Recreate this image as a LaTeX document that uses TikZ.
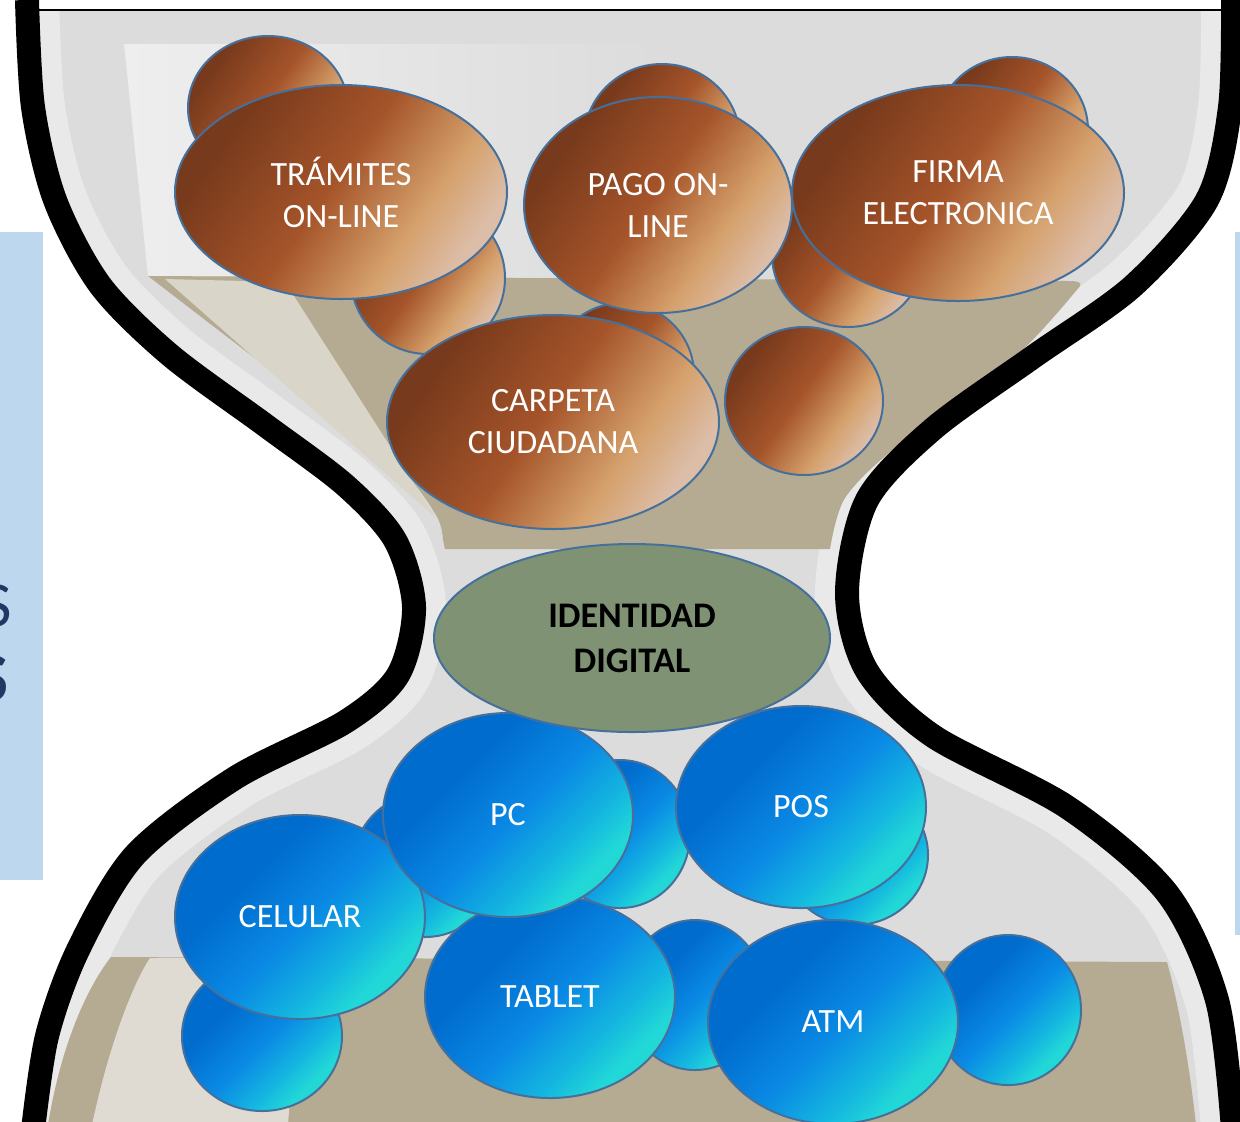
\documentclass[tikz,border=0pt]{standalone}
\usepackage{fontspec}
\setmainfont{Carlito}
\usetikzlibrary{shapes.geometric}
\definecolor{glass}{HTML}{DCDCDC}
\definecolor{rim}{HTML}{E9E9E9}
\definecolor{hilite}{HTML}{EEEEEE}
\definecolor{sand}{HTML}{B5AA92}
\definecolor{sandlt}{HTML}{DAD5C9}
\definecolor{sandlt2}{HTML}{DFDBD3}
\definecolor{olb}{HTML}{46709C}
\definecolor{idgreen}{HTML}{7F9374}
\definecolor{panel}{HTML}{BDD7EE}
\definecolor{navy}{HTML}{203864}
\definecolor{brA}{HTML}{783A1C}
\definecolor{brB}{HTML}{A5542A}
\definecolor{brC}{HTML}{D5A16C}
\definecolor{brD}{HTML}{DCBDA8}
\definecolor{blA}{HTML}{006CCE}
\definecolor{blB}{HTML}{0A8AE4}
\definecolor{blC}{HTML}{14B6E0}
\definecolor{blD}{HTML}{22D8D6}
\pgfdeclarehorizontalshading{brownsh}{100bp}{color(0bp)=(brA); color(28bp)=(brA); color(48bp)=(brB); color(64bp)=(brC); color(74bp)=(brD); color(100bp)=(brD)}
\pgfdeclarehorizontalshading{bluesh}{100bp}{color(0bp)=(blA); color(36bp)=(blA); color(52bp)=(blB); color(64bp)=(blC); color(72bp)=(blD); color(100bp)=(blD)}
\tikzset{
  ball/.style={ellipse, draw=olb, line width=1pt, inner sep=0pt},
  brownball/.style={ball, shading=brownsh, shading angle=-35},
  blueball/.style={ball, shading=bluesh, shading angle=-45},
  lbl/.style={text=white, font=\fontsize{17}{21}\selectfont, align=center},
  blackline/.style={line width=12pt, black},
  rimline/.style={line width=32pt, rim}
}
\begin{document}
\begin{tikzpicture}[x=0.5pt, y=-0.5pt]
\useasboundingbox (0,0) rectangle (1240,1121);
% glass interior
\fill[glass] plot[smooth] coordinates {(27,11) (33,107) (55,200) (100,285) (170,355) (265,425) (345,485) (395,540) (414,607) (398,675) (345,722) (235,778) (135,855) (78,950) (47,1036) (33,1125)}
  -- plot[smooth] coordinates {(1233,1125) (1217,1000) (1167,893) (1067,807) (933,736) (867,671) (847,593) (867,500) (933,429) (1033,357) (1133,286) (1207,200) (1230,107) (1233,11)} -- cycle;
\begin{scope}
\clip plot[smooth] coordinates {(27,11) (33,107) (55,200) (100,285) (170,355) (265,425) (345,485) (395,540) (414,607) (398,675) (345,722) (235,778) (135,855) (78,950) (47,1036) (33,1125)}
  -- plot[smooth] coordinates {(1233,1125) (1217,1000) (1167,893) (1067,807) (933,736) (867,671) (847,593) (867,500) (933,429) (1033,357) (1133,286) (1207,200) (1230,107) (1233,11)} -- cycle;
\draw[rimline] plot[smooth] coordinates {(27,0) (33,107) (55,200) (100,285) (170,355) (265,425) (345,485) (395,540) (414,607) (398,675) (345,722) (235,778) (135,855) (78,950) (47,1036) (33,1130)};
\draw[rimline] plot[smooth] coordinates {(1233,0) (1230,107) (1207,200) (1133,286) (1033,357) (933,429) (867,500) (847,593) (867,671) (933,736) (1067,807) (1167,893) (1217,1000) (1233,1130)};
\end{scope}
% highlight in upper bulb
\shade[left color=hilite, middle color=hilite, right color=glass] (124,44) -- (660,44) -- (660,278) -- (148,276) .. controls (140,200) and (130,100) .. (124,44) -- cycle;
% upper sand
\fill[sand] (148,276) -- (1070,281) .. controls (1078,281) and (1082,283) .. (1080,286)
  -- plot[smooth] coordinates {(1080,286) (1015,357) (897,446) (845,498) (830,549)}
  -- (445,549) -- plot[smooth] coordinates {(443,540) (436,515) (395,464) (277,375) (148,276)} -- cycle;
\fill[sandlt] (165,279) -- (285,282) -- (436,518) -- cycle;
% lower sand
\fill[sand] (111,957) -- (1167,962) .. controls (1180,1010) and (1190,1070) .. (1196,1125) -- (48,1125) .. controls (60,1050) and (85,990) .. (111,957) -- cycle;
\fill[sandlt2] (150,958) -- (300,958) -- (288,1125) -- (92,1125) .. controls (110,1040) and (135,980) .. (150,958) -- cycle;
% black outline
\draw[blackline] plot[smooth] coordinates {(27,0) (33,107) (55,200) (100,285) (170,355) (265,425) (345,485) (395,540) (414,607) (398,675) (345,722) (235,778) (135,855) (78,950) (47,1036) (33,1130)};
\draw[blackline] plot[smooth] coordinates {(1233,0) (1230,107) (1207,200) (1133,286) (1033,357) (933,429) (867,500) (847,593) (867,671) (933,736) (1067,807) (1167,893) (1217,1000) (1233,1130)};
\coordinate (tl) at (27,10);
\coordinate (tr) at (1233,10);
\draw[line width=1pt] (tl) -- (tr);
% brown balls (back)
\node[brownball, minimum width=80pt, minimum height=72pt] (b1) at (268,108) {};
\node[brownball, minimum width=77pt, minimum height=76pt] (b3) at (428,278) {};
\node[brownball, minimum width=78pt, minimum height=76pt] (b4) at (662,140) {};
\node[brownball, minimum width=76pt, minimum height=73pt] (b6) at (1012,130) {};
\node[brownball, minimum width=76pt, minimum height=72pt] (b8) at (848,255) {};
\node[brownball, minimum width=72pt, minimum height=72pt] (b9) at (622,375) {};
\node[brownball, minimum width=79pt, minimum height=74pt] (b11) at (804,401) {};
% brown balls (front)
\node[brownball, minimum width=166pt, minimum height=107pt, lbl] (tram) at (341,192) {TRÁMITES\\ON-LINE};
\node[brownball, minimum width=134pt, minimum height=108pt, lbl] (pago) at (658,205) {PAGO ON-\\LINE};
\node[brownball, minimum width=166pt, minimum height=108pt, lbl] (firma) at (958,193) {FIRMA\\ELECTRONICA};
\node[brownball, minimum width=166pt, minimum height=107pt, lbl] (carpeta) at (553,422) {CARPETA\\CIUDADANA};
% blue balls (back)
\node[blueball, minimum width=72pt, minimum height=72pt] (u1) at (425,865) {};
\node[blueball, minimum width=70pt, minimum height=74pt] (u3) at (620,834) {};
\node[blueball, minimum width=73pt, minimum height=70pt] (u5) at (855,855) {};
\node[blueball, minimum width=80pt, minimum height=75pt] (u7) at (262,1036) {};
\node[blueball, minimum width=70pt, minimum height=75pt] (u9) at (695,995) {};
\node[blueball, minimum width=73pt, minimum height=75pt] (u11) at (1008,1010) {};
% blue balls (front)
\node[blueball, minimum width=125pt, minimum height=101pt, lbl] (tablet) at (550,997) {TABLET};
\node[blueball, minimum width=125pt, minimum height=102pt, lbl] (atm) at (833,1022) {ATM};
\node[blueball, minimum width=125pt, minimum height=102pt, lbl] (celular) at (300,917) {CELULAR};
\node[blueball, minimum width=125pt, minimum height=101pt, lbl] (pos) at (801,807) {POS};
\node[blueball, minimum width=125pt, minimum height=102pt, lbl] (pc) at (508,815) {PC};
% identity
\node[ball, fill=idgreen, minimum width=198pt, minimum height=94pt, align=center, font=\bfseries\fontsize{18}{22.5}\selectfont] (idd) at (632,638) {IDENTIDAD\\DIGITAL};
% side panels
\fill[panel] (0,232) rectangle (43,880);
\fill[panel] (1235,232) rectangle (1240,935);
\node[anchor=east, inner sep=0pt, text=navy, font=\fontsize{32}{32}\selectfont] (s1) at (12,606) {S};
\node[anchor=east, inner sep=0pt, text=navy, font=\bfseries\fontsize{35}{35}\selectfont] (s2) at (9,679) {S};
\end{tikzpicture}
\end{document}
